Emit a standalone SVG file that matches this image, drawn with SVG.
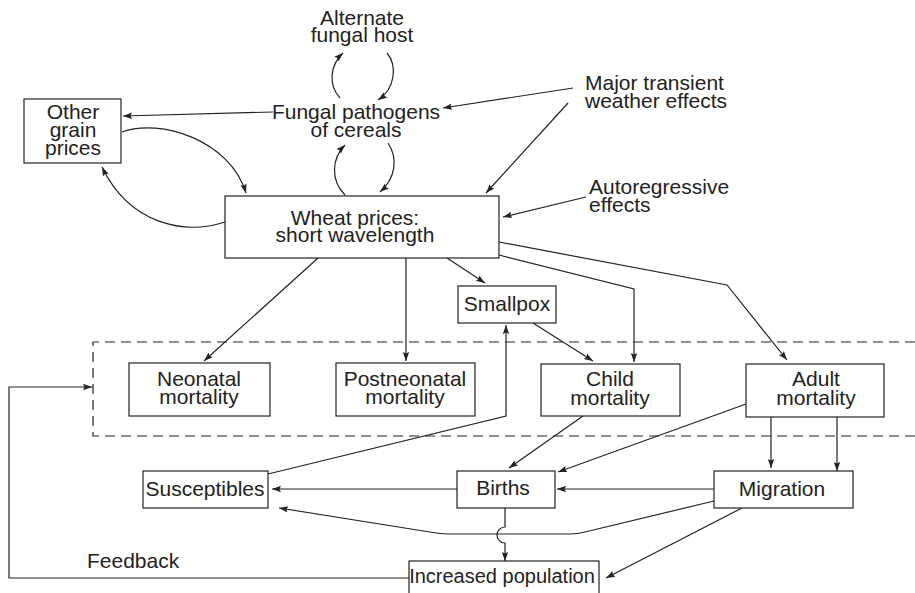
<svg xmlns="http://www.w3.org/2000/svg" width="915" height="593" viewBox="0 0 915 593">
<defs>
<marker id="ah" markerUnits="userSpaceOnUse" markerWidth="10" markerHeight="8" refX="9" refY="4" orient="auto">
<path d="M0,0.8 L9,4 L0,7.2 L1.5,4 Z" fill="#222"/>
</marker>
<style>
text{font-family:"Liberation Sans",Arial,sans-serif;font-size:21px;fill:#222}
.c{text-anchor:middle}
.box{fill:#fff;stroke:#222;stroke-width:1.2}
.ln{fill:none;stroke:#222;stroke-width:1.2}
.ar{fill:none;stroke:#222;stroke-width:1.2;marker-end:url(#ah)}
.dash{fill:none;stroke:#222;stroke-width:1.2;stroke-dasharray:10,6}
</style>
</defs>
<rect width="915" height="593" fill="#fff"/>
<path class="dash" d="M915,342 H93 V436 H915"/>
<g id="connectors">
<path class="ar" d="M340,98 C328,85 330,65 343,53"/>
<path class="ar" d="M387,53 C397,65 396,88 378,100"/>
<path class="ar" d="M345,195 C330,180 332,158 345,145"/>
<path class="ar" d="M388,143 C398,158 396,178 380,192"/>
<path class="ar" d="M273,112 L123,116"/>
<path class="ar" d="M122,132 C160,118 230,140 246,193"/>
<path class="ar" d="M225,222 C185,235 130,225 102,167"/>
<path class="ar" d="M573,88 L443,108"/>
<path class="ar" d="M568,103 L486,193"/>
<path class="ar" d="M586,197 L503,217"/>
<path class="ar" d="M447,258 L485,283"/>
<path class="ar" d="M499,242 L727,285 L787,360"/>
<path class="ar" d="M499,255 L634,289 L634,362"/>
<path class="ar" d="M318,258 L204,361"/>
<path class="ar" d="M406,258 L406,361"/>
<path class="ar" d="M533,323 L593,361"/>
<path class="ar" d="M268,474 L506,416 L506,325"/>
<path class="ar" d="M583,416 L509,468"/>
<path class="ar" d="M746,404 L558,472"/>
<path class="ar" d="M771,417 L771,468"/>
<path class="ar" d="M837,417 L837,471"/>
<path class="ar" d="M714,489 L557,489"/>
<path class="ar" d="M457,489 L272,489"/>
<path class="ar" d="M714,501 L585,532 Q578,534 570,534 L450,534 Q443,534 436,533 L279,508"/>
<path class="ar" d="M505,508 V527 A8,8 0 0 0 505,543 V561"/>
<path class="ar" d="M742,508 L606,578"/>
<path class="ar" d="M409,578 H9 V387 H92"/>
</g>
<g id="alternate"><text class="c" x="362" y="25">Alternate</text><text class="c" x="362" y="42">fungal host</text></g>
<g id="fungal"><text class="c" x="356" y="119">Fungal pathogens</text><text class="c" x="356" y="137">of cereals</text></g>
<g id="major"><text x="585" y="90">Major transient</text><text x="585" y="108">weather effects</text></g>
<g id="autoreg"><text x="589" y="194">Autoregressive</text><text x="589" y="212">effects</text></g>
<g id="other"><rect class="box" x="24" y="99" width="97" height="64"/><text class="c" x="73" y="119">Other</text><text class="c" x="73" y="137">grain</text><text class="c" x="73" y="155">prices</text></g>
<g id="wheat"><rect class="box" x="225" y="196" width="274" height="62"/><text class="c" x="355" y="225">Wheat prices:</text><text class="c" x="355" y="242">short wavelength</text></g>
<g id="smallpox"><rect class="box" x="458" y="286" width="98" height="37"/><text class="c" x="507" y="311">Smallpox</text></g>
<g id="neonatal"><rect class="box" x="129" y="363" width="141" height="53"/><text class="c" x="199" y="386">Neonatal</text><text class="c" x="199" y="404">mortality</text></g>
<g id="postneonatal"><rect class="box" x="336" y="363" width="139" height="53"/><text class="c" x="405" y="386">Postneonatal</text><text class="c" x="405" y="404">mortality</text></g>
<g id="child"><rect class="box" x="541" y="364" width="139" height="52"/><text class="c" x="610" y="386">Child</text><text class="c" x="610" y="405">mortality</text></g>
<g id="adult"><rect class="box" x="746" y="364" width="138" height="53"/><text class="c" x="816" y="386">Adult</text><text class="c" x="816" y="405">mortality</text></g>
<g id="susceptibles"><rect class="box" x="143" y="471" width="125" height="37"/><text class="c" x="205" y="496">Susceptibles</text></g>
<g id="births"><rect class="box" x="457" y="471" width="98" height="37"/><text class="c" x="503" y="495">Births</text></g>
<g id="migration"><rect class="box" x="714" y="471" width="139" height="37"/><text class="c" x="782" y="496">Migration</text></g>
<g id="increased"><rect class="box" x="409" y="561" width="190" height="40"/><text class="c" x="502" y="583" style="font-size:20px">Increased population</text></g>
<g id="feedback"><text x="87" y="568">Feedback</text></g>
</svg>
